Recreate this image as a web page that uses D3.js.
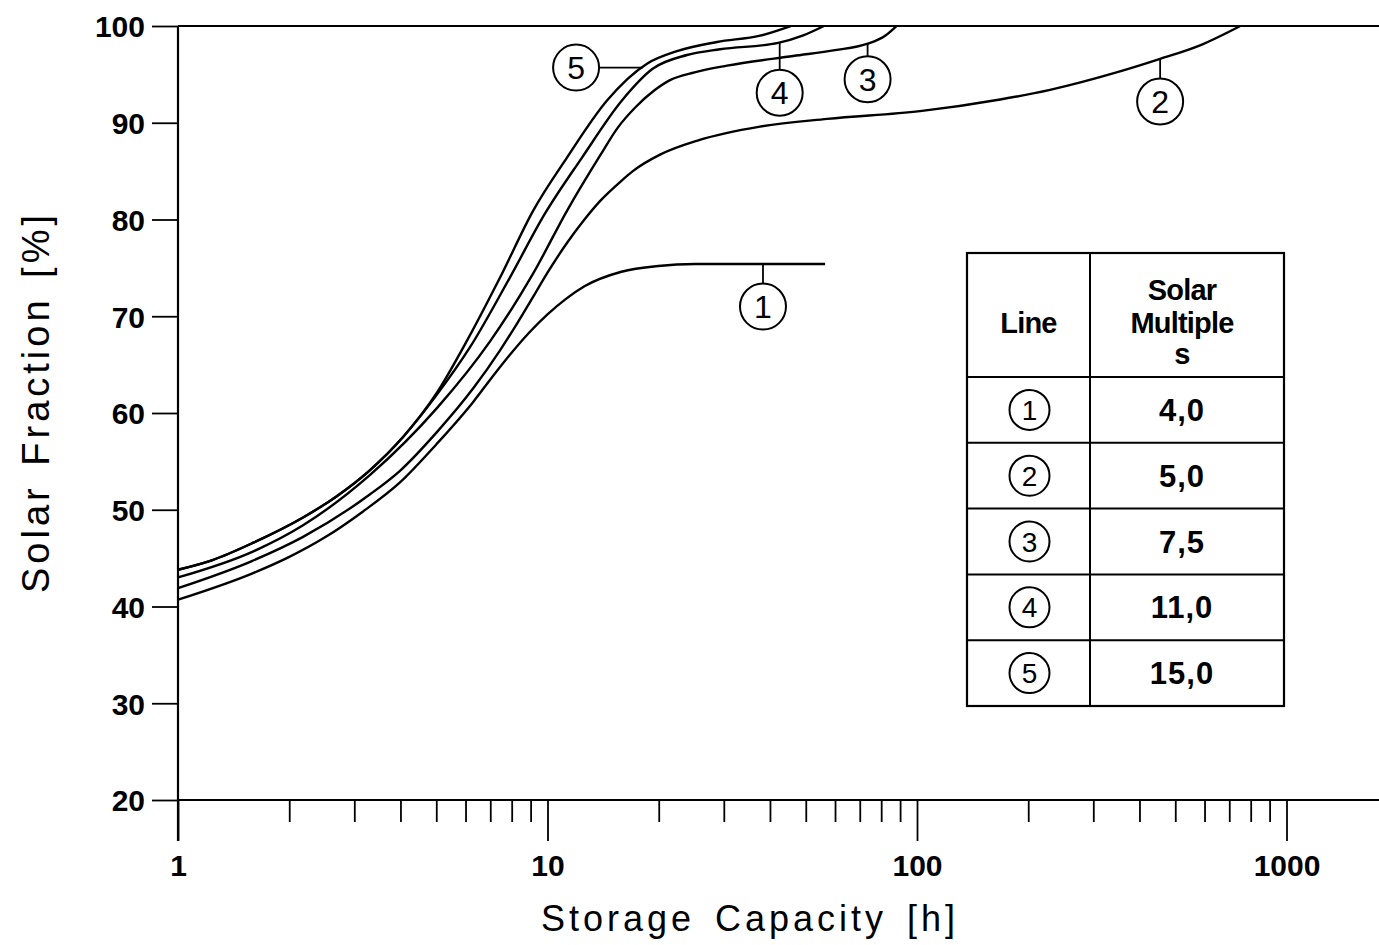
<!DOCTYPE html>
<html>
<head>
<meta charset="utf-8">
<script src="https://cdn.jsdelivr.net/npm/d3@7"></script>
<style>
  html, body { margin: 0; padding: 0; background: #fff; }
  svg { display: block; }
</style>
</head>
<body>
<svg id="chart" width="1379" height="945"></svg>
<script>
// ---------- DATA ----------
const lineIds = [1, 2, 3, 4, 5];
const solarMultiples = ["4,0", "5,0", "7,5", "11,0", "15,0"];
const xTickValues = [1, 10, 100, 1000];
const yTickValues = [20, 30, 40, 50, 60, 70, 80, 90, 100];

// storage capacity [h] / solar fraction [%]
const line1X = [1, 1.585, 1.995, 2.512, 3.162, 3.981, 5.012, 6.31, 7.079, 7.943, 8.913, 10, 11.22, 12.59, 15.85, 19.95, 25.12, 56.4];
const line1Y = [40.7, 43.4, 45.1, 47.2, 49.8, 52.8, 56.8, 61.2, 63.7, 66.1, 68.3, 70.2, 71.8, 73.1, 74.6, 75.2, 75.4, 75.4];

const line2X = [1, 1.585, 2.18, 3.31, 3.981, 5.012, 6.31, 7.447, 8.318, 9.141, 10, 11.3, 12.59, 13.87, 15.85, 17.02, 20.16, 25.7, 37.58, 57.15, 101.9, 167.9, 229.1, 346.7, 455, 583.4, 749.9];
const line2Y = [41.9, 44.7, 47.2, 51.6, 54.0, 58.0, 62.6, 66.5, 69.4, 72.0, 74.5, 77.6, 80.0, 81.9, 84.0, 85.0, 86.7, 88.2, 89.6, 90.4, 91.2, 92.4, 93.4, 95.2, 96.6, 98.0, 100];

const line3X = [1, 1.6, 2.18, 3.31, 5.02, 6.99, 9.14, 11.29, 13.87, 15.5, 17.3, 19.4, 21.46, 25, 30.61, 46.2, 60, 73.2, 82, 88];
const line3Y = [43.0, 45.7, 48.4, 53.6, 60.5, 67.4, 74.4, 80.9, 86.6, 89.5, 91.6, 93.3, 94.4, 95.2, 95.9, 96.9, 97.5, 98.15, 99.0, 100];

const line4X = [1, 1.24, 1.6, 2.18, 2.69, 3.31, 4.06, 5.02, 6.17, 7.91, 9.84, 12.4, 15.9, 19.3, 23.85, 29.3, 42.1, 49, 56];
const line4Y = [43.8, 44.8, 46.6, 49.2, 51.4, 54.1, 57.5, 61.9, 66.8, 74.0, 80.6, 86.4, 92.3, 95.6, 97.0, 97.6, 98.25, 99.0, 100];

const line5X = [1, 1.24, 1.6, 2.18, 2.69, 3.31, 4.06, 5.02, 6.06, 7.44, 9.14, 11.29, 14.49, 18.59, 22.41, 28.75, 37.6, 45.5];
const line5Y = [43.8, 44.8, 46.6, 49.2, 51.4, 54.1, 57.5, 62.1, 67.5, 74.0, 80.9, 86.4, 92.3, 96.1, 97.4, 98.35, 99.0, 100];

// callout labels (data coordinates of circle centres and leader ends)
const labelX = [38.3, 455, 73.5, 42.5, 11.95];
const labelY = [71.0, 92.2, 94.5, 93.1, 95.7];
const leaderX = [38.3, 455, 73.5, 42.5, 18.1];

const xTitle = "Storage Capacity [h]";
const yTitle = "Solar Fraction [%]";
const tableHead1 = "Line";
const tableHead2 = ["Solar", "Multiple", "s"];

// ---------- CHART ----------
const lineXs = [line1X, line2X, line3X, line4X, line5X];
const lineYs = [line1Y, line2Y, line3Y, line4Y, line5Y];

const svg = d3.select("#chart");
const W = 1379;
const font = "'Liberation Sans', Arial, Helvetica, sans-serif";

const x = d3.scaleLog().domain([1, 1000]).range([178, 1286.5]);
const y = d3.scaleLinear().domain([20, 100]).range([800, 26]);

// frame lines
svg.append("line").attr("x1", x(1)).attr("x2", W).attr("y1", y(100)).attr("y2", y(100))
  .attr("stroke", "#000").attr("stroke-width", 2);
svg.append("line").attr("x1", x(1)).attr("x2", W).attr("y1", y(20)).attr("y2", y(20))
  .attr("stroke", "#000").attr("stroke-width", 2);
svg.append("line").attr("x1", x(1)).attr("x2", x(1)).attr("y1", y(100)).attr("y2", y(20) + 41)
  .attr("stroke", "#000").attr("stroke-width", 2.2);

// y axis
const yAxis = d3.axisLeft(y).tickValues(yTickValues).tickSize(26).tickPadding(7).tickFormat(d3.format("d"));
const gy = svg.append("g").attr("transform", `translate(${x(1)},0)`).call(yAxis);
gy.select(".domain").remove();
gy.selectAll(".tick line").attr("stroke", "#000").attr("stroke-width", 1.8);
gy.selectAll(".tick text").attr("font-family", font).attr("font-size", 30).attr("font-weight", "bold")
  .attr("fill", "#000").attr("dy", "0.36em");

// x axis major
const xAxis = d3.axisBottom(x).tickValues(xTickValues).tickSize(41).tickPadding(14).tickFormat(d3.format("d"));
const gx = svg.append("g").attr("transform", `translate(0,${y(20)})`).call(xAxis);
gx.select(".domain").remove();
gx.selectAll(".tick line").attr("stroke", "#000").attr("stroke-width", 1.8);
gx.selectAll(".tick text").attr("font-family", font).attr("font-size", 30).attr("font-weight", "bold")
  .attr("fill", "#000");

// x axis minor
const minorVals = [];
[1, 10, 100].forEach(dec => { for (let k = 2; k <= 9; k++) minorVals.push(dec * k); });
const xMinor = d3.axisBottom(x).tickValues(minorVals).tickSize(22).tickFormat("");
const gxm = svg.append("g").attr("transform", `translate(0,${y(20)})`).call(xMinor);
gxm.select(".domain").remove();
gxm.selectAll(".tick line").attr("stroke", "#000").attr("stroke-width", 1.8);

// titles
svg.append("text").attr("x", 750).attr("y", 931).attr("text-anchor", "middle")
  .attr("font-family", font).attr("font-size", 36).attr("letter-spacing", 4).attr("word-spacing", 6)
  .attr("fill", "#000").text(xTitle);
svg.append("text").attr("transform", "translate(49,402) rotate(-90)").attr("text-anchor", "middle")
  .attr("font-family", font).attr("font-size", 38).attr("letter-spacing", 4).attr("word-spacing", 4)
  .attr("fill", "#000").text(yTitle);

// curves
const lineGen = d3.line().x(d => x(d[0])).y(d => y(d[1])).curve(d3.curveMonotoneX);
lineIds.forEach((id, i) => {
  const pts = lineXs[i].map((v, j) => [v, lineYs[i][j]]);
  svg.append("path").datum(pts).attr("d", lineGen)
    .attr("fill", "none").attr("stroke", "#000").attr("stroke-width", 2.4);
});

// interpolate a curve in log-x
function curveAt(i, xv) {
  const xsArr = lineXs[i], ysArr = lineYs[i];
  for (let j = 0; j < xsArr.length - 1; j++) {
    if (xv >= xsArr[j] && xv <= xsArr[j + 1]) {
      const t = (Math.log(xv) - Math.log(xsArr[j])) / (Math.log(xsArr[j + 1]) - Math.log(xsArr[j]));
      return ysArr[j] + t * (ysArr[j + 1] - ysArr[j]);
    }
  }
  return ysArr[ysArr.length - 1];
}

// callouts
const R = 23;
lineIds.forEach((id, i) => {
  const cx = x(labelX[i]), cy = y(labelY[i]);
  if (leaderX[i] === labelX[i]) {
    const yTop = y(curveAt(i, labelX[i]));
    svg.append("line").attr("x1", cx).attr("x2", cx).attr("y1", yTop).attr("y2", cy - R)
      .attr("stroke", "#000").attr("stroke-width", 1.8);
  } else {
    svg.append("line").attr("x1", cx + R).attr("x2", x(leaderX[i])).attr("y1", cy).attr("y2", cy)
      .attr("stroke", "#000").attr("stroke-width", 1.8);
  }
  svg.append("circle").attr("cx", cx).attr("cy", cy).attr("r", R)
    .attr("fill", "#fff").attr("stroke", "#000").attr("stroke-width", 2);
  svg.append("text").attr("x", cx).attr("y", cy).attr("dy", "0.36em").attr("text-anchor", "middle")
    .attr("font-family", font).attr("font-size", 32).attr("fill", "#000").text(id);
});

// ---------- TABLE (legend) ----------
const tL = 967, tR = 1284, tC = 1090, tTop = 253, tHeadB = 377, rowH = 65.8;
const tBottom = tHeadB + rowH * lineIds.length;
const tg = svg.append("g");
tg.append("rect").attr("x", tL).attr("y", tTop).attr("width", tR - tL).attr("height", tBottom - tTop)
  .attr("fill", "#fff").attr("stroke", "#000").attr("stroke-width", 2.2);
tg.append("line").attr("x1", tC).attr("x2", tC).attr("y1", tTop).attr("y2", tBottom)
  .attr("stroke", "#000").attr("stroke-width", 2);
for (let k = 0; k < lineIds.length; k++) {
  const yy = tHeadB + rowH * k;
  tg.append("line").attr("x1", tL).attr("x2", tR).attr("y1", yy).attr("y2", yy)
    .attr("stroke", "#000").attr("stroke-width", 2);
}
const c1 = (tL + tC) / 2, c2 = (tC + tR) / 2 - 5;
tg.append("text").attr("x", c1).attr("y", 333).attr("text-anchor", "middle")
  .attr("font-family", font).attr("font-size", 29).attr("font-weight", "bold").attr("letter-spacing", -0.8)
  .attr("fill", "#000").text(tableHead1);
[300, 333, 364].forEach((by, k) => {
  tg.append("text").attr("x", c2).attr("y", by).attr("text-anchor", "middle")
    .attr("font-family", font).attr("font-size", 29).attr("font-weight", "bold").attr("letter-spacing", -0.8)
    .attr("fill", "#000").text(tableHead2[k]);
});
lineIds.forEach((id, k) => {
  const cy = tHeadB + rowH * (k + 0.5);
  tg.append("circle").attr("cx", c1 + 1).attr("cy", cy).attr("r", 20)
    .attr("fill", "#fff").attr("stroke", "#000").attr("stroke-width", 2);
  tg.append("text").attr("x", c1 + 1).attr("y", cy).attr("dy", "0.36em").attr("text-anchor", "middle")
    .attr("font-family", font).attr("font-size", 28).attr("fill", "#000").text(id);
  tg.append("text").attr("x", c2).attr("y", cy).attr("dy", "0.36em").attr("text-anchor", "middle")
    .attr("font-family", font).attr("font-size", 31).attr("font-weight", "bold").attr("letter-spacing", 1)
    .attr("fill", "#000").text(solarMultiples[k]);
});
</script>
</body>
</html>
